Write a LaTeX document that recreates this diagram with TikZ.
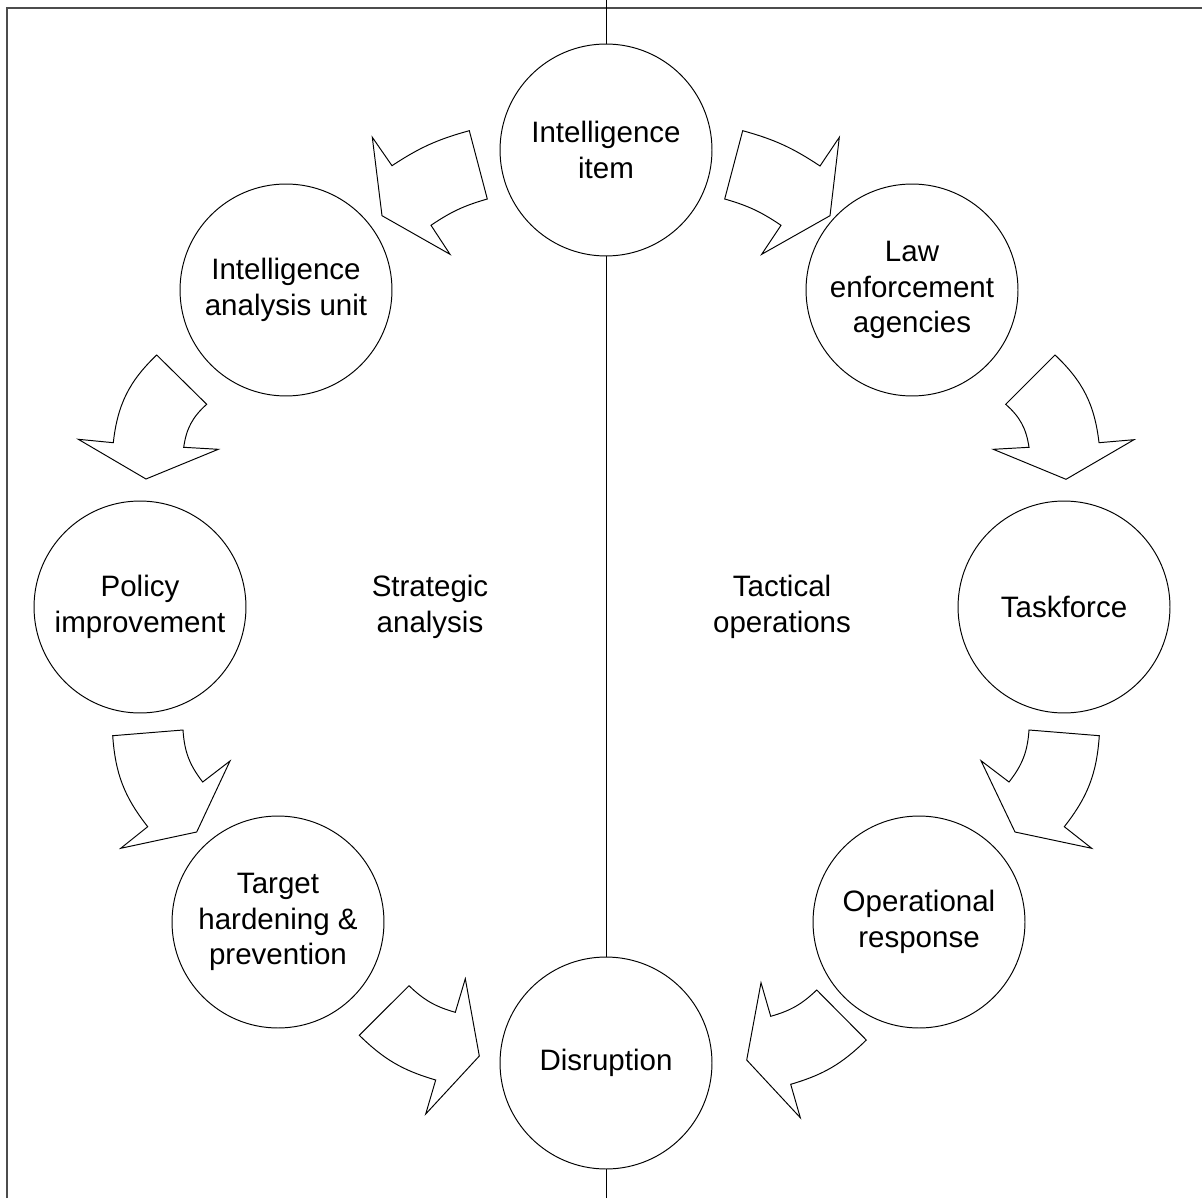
\documentclass[tikz,border=0pt]{standalone}
\usepackage{fontspec}
\setmainfont{Liberation Sans}
\begin{document}
\begin{tikzpicture}[x=0.02cm,y=0.02cm,
    stage/.style={circle,draw,fill=white,line width=0.55pt,minimum size=4.24cm,inner sep=0pt,align=center,font=\fontsize{16.8}{20.4}\selectfont},
    side/.style={align=center,font=\fontsize{16.8}{20.4}\selectfont},
    flow/.style={draw,line width=0.55pt,fill=white,line join=miter}]
  \useasboundingbox (0,0) rectangle (1202,1198);
  % frame and dividing line
  \draw[line width=0.7pt,black!70] (7,0) -- (7,1190) -- (1202,1190);
  \draw[line width=0.5pt] (606,0) -- (606,1198);
  % stages
  \node[stage] (item) at (606,1048) {Intelligence\\item};
  \node[stage] (unit) at (286,908) {Intelligence\\analysis unit};
  \node[stage] (law) at (912,908) {Law\\enforcement\\agencies};
  \node[stage] (policy) at (140,591) {Policy\\improvement};
  \node[stage] (task) at (1064,591) {Taskforce};
  \node[stage] (target) at (278,276) {Target\\hardening \&\\prevention};
  \node[stage] (oper) at (919,276) {Operational\\response};
  \node[stage] (disr) at (606,135) {Disruption};
  \node[side] (strat) at (430,591) {Strategic\\analysis};
  \node[side] (tact) at (782,591) {Tactical\\operations};
  % curved arrows, left side
  \draw[flow] (469.3,1067.3) to[bend right=9] (392,1032.3) -- (372.3,1060.7) -- (382,982.3)
    -- (450,943.7) -- (431,972.7) to[bend left=9] (487.3,999) -- cycle;
  \draw[flow] (156.7,843) to[bend right=20] (113.3,755.3) -- (78.3,758.7) -- (146,719)
    -- (218.3,748.7) -- (183.7,750.7) to[bend left=20] (206.7,793.7) -- cycle;
  \draw[flow] (112.7,462.3) to[bend right=17] (147.7,371.3) -- (120.7,349.7) -- (196.7,366)
    -- (230,437) -- (202.7,416) to[bend left=17] (183,468) -- cycle;
  \draw[flow] (359.3,162.7) to[bend right=14] (435.7,118) -- (425.7,84) -- (479.3,142)
    -- (465.3,219.3) -- (455.3,185.7) to[bend left=14] (409,212.3) -- cycle;
  % curved arrows, right side
  \draw[flow] (742.7,1067.3) to[bend left=9] (820,1032) -- (839.3,1060.7) -- (830,982.3)
    -- (761.7,943.7) -- (781,972.7) to[bend right=9] (724.7,999) -- cycle;
  \draw[flow] (1055,843) to[bend left=20] (1099,755.3) -- (1134,758.3) -- (1066,718.7)
    -- (993.3,748.7) -- (1029,750.7) to[bend right=20] (1005.7,793.7) -- cycle;
  \draw[flow] (1099.3,462.3) to[bend left=17] (1064.3,371.3) -- (1091.7,349.7) -- (1015,366)
    -- (981,437.3) -- (1009,416) to[bend right=17] (1029,468) -- cycle;
  \draw[flow] (866.3,158) to[bend left=14] (790.7,113.7) -- (800.3,80.3) -- (746.7,138)
    -- (761,215.3) -- (770.7,181.7) to[bend right=14] (816.7,208) -- cycle;
\end{tikzpicture}
\end{document}
